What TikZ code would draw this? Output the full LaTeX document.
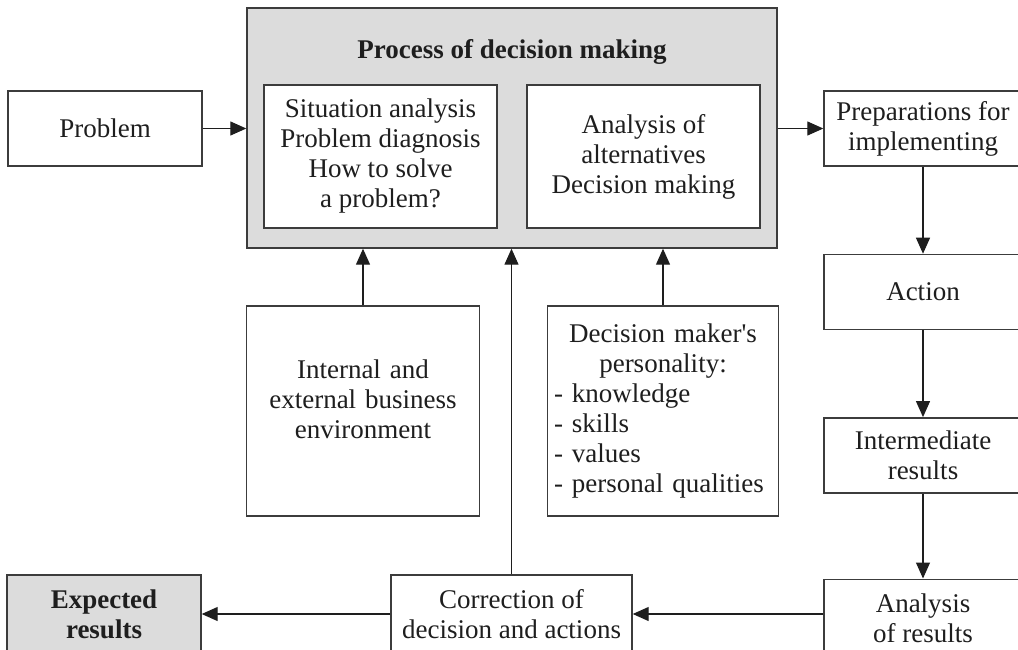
\documentclass[tikz,border=0pt]{standalone}
\usepackage{fontspec}
\setmainfont{Liberation Serif}
\newfontfamily\plainserif{Liberation Serif}
\usetikzlibrary{arrows.meta,positioning}
\definecolor{ink}{HTML}{1E1E1E}
\definecolor{frame}{HTML}{3C3C3C}
\definecolor{shade}{HTML}{DCDCDC}
\newcommand\apos{{\plainserif'}}
\tikzset{
  >={Triangle[length=8pt,width=7pt]},
  every node/.style={font=\fontsize{13.5}{15}\selectfont,text=ink},
  box/.style={draw=frame,line width=0.7pt,fill=white,minimum height=37.5pt,minimum width=99pt,align=center,inner sep=2pt},
  shadebox/.style={box,fill=shade},
  innerbox/.style={box,minimum width=116.5pt,minimum height=71.5pt},
  tallbox/.style={box,minimum width=116.5pt,minimum height=105pt},
  boldtext/.style={font=\fontsize{13.5}{15}\selectfont\bfseries},
  arrow/.style={->,line width=0.6pt,draw=ink},
}

\begin{document}
\begin{tikzpicture}[x=0.5pt,y=-0.5pt,node distance=43.5pt]
\path[use as bounding box,clip] (0,0) rectangle (1018,649);

\node[shadebox,minimum width=265pt,minimum height=120pt] (process) at (512,128) {};
\node[boldtext] (title) at (512,52) {Process of decision making};
\node[innerbox] (situation) at (380.5,156.5) {Situation analysis\\Problem diagnosis\\How to solve\\a problem?};
\node[innerbox] (alternatives) at (643.5,156.5) {Analysis of\\alternatives\\Decision making};

\node[box,minimum width=97pt] (problem) at (105,128.5) {Problem};
\node[box] (prep) at (923,128.5) {Preparations for\\implementing};
\node[box,below=of prep] (action) {Action};
\node[box,below=of action] (inter) {Intermediate\\results};
\node[box,minimum height=39pt,below=42.5pt of inter] (analysis) {Analysis\\of results};

\node[tallbox,text width=112pt] (env) at (363,411) {Internal and\\external business\\environment\par\vspace{12pt}};
\node[tallbox,minimum width=115.5pt,text width=109pt,align=left] (person) at (663,411) {\makebox[109pt]{Decision maker\apos s}\\\makebox[109pt]{personality:}\\- knowledge\\- skills\\- values\\- personal qualities};

\node[box,minimum width=120.5pt,minimum height=39pt] (correction) at (511.5,614) {Correction of\\decision and actions};
\node[shadebox,boldtext,minimum width=97pt,minimum height=39pt] (expected) at (104,614) {Expected\\results};

\draw[arrow] (problem.east) -- (problem.east -| process.west);
\draw[arrow] (process.east |- prep.west) -- (prep.west);
\draw[arrow] (prep) -- (action);
\draw[arrow] (action) -- (inter);
\draw[arrow] (inter) -- (analysis);
\draw[arrow] (analysis.west |- correction.east) -- (correction.east);
\draw[arrow] (correction) -- (expected);
\draw[arrow] (env.north) -- (env.north |- process.south);
\draw[arrow] (person.north) -- (person.north |- process.south);
\draw[arrow] (correction.north) -- (correction.north |- process.south);

\end{tikzpicture}
\end{document}
